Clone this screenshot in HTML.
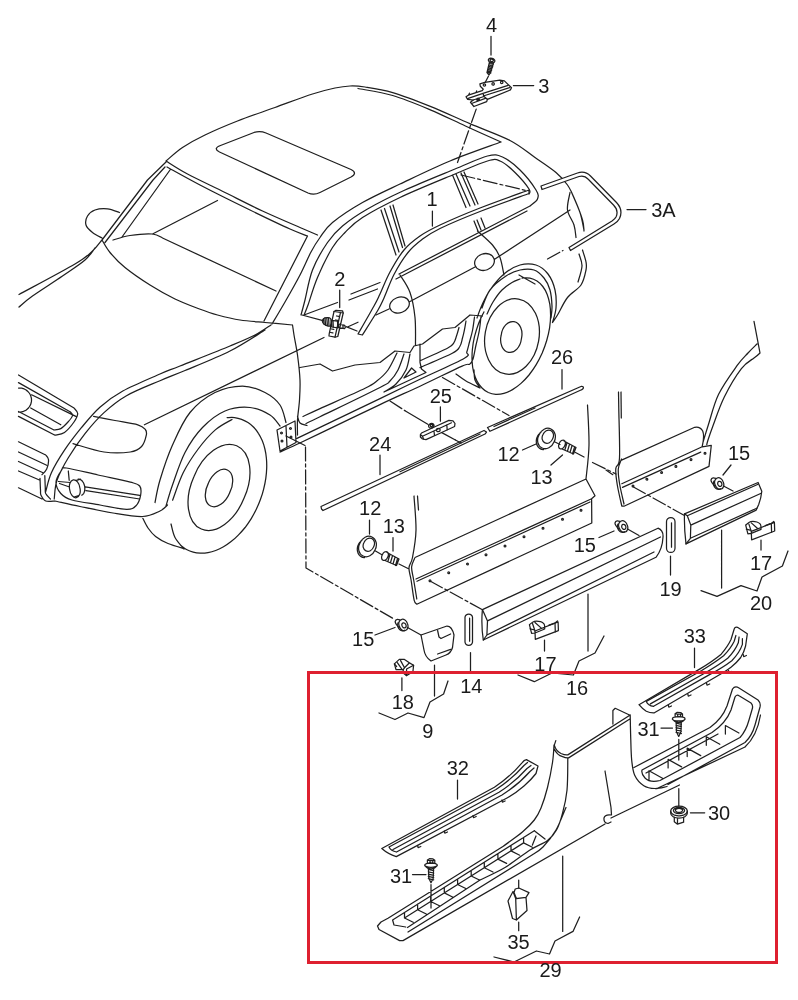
<!DOCTYPE html>
<html lang="en"><head><meta charset="utf-8"><title>Parts diagram</title>
<style>html,body{margin:0;padding:0;background:#fff}svg{display:block;will-change:transform;transform:translateZ(0)}text{font-family:"Liberation Sans",sans-serif;font-size:20px;fill:#1a1a1a;text-anchor:middle}</style>
</head><body>
<svg width="798" height="1000" viewBox="0 0 798 1000">
<rect width="798" height="1000" fill="#fff"/>
<g fill="none" stroke="#1f1f1f" stroke-width="1.25" stroke-linecap="round" stroke-linejoin="round">
<path d="M166,161C168.8,158.8 176,151.8 182.5,147.5C189,143.2 195.8,139.4 205,135C214.2,130.6 225.8,125.6 237.5,121C249.2,116.4 262.5,112 275,107.5C287.5,103 302.5,97.2 312.5,94C322.5,90.8 328.8,89.3 335,88C341.2,86.7 345,86.2 350,86C355,85.8 357.9,85.9 365,87C372.1,88.1 381.8,89.4 392.7,92.6C403.6,95.8 417.4,101.2 430.3,106.4C443.2,111.6 457.1,118.2 470.4,123.9C483.7,129.6 499.2,134.9 510,140.5C520.8,146.1 527.3,152.2 535,157.5C542.7,162.8 550.6,167.9 556,172.5C561.4,177.1 564.3,180.4 567.5,185C570.7,189.6 572.5,194.2 575,200C577.5,205.8 581,214.8 582.5,220C584,225.2 583.8,229.2 584,231 M358,88.5C363.8,89.7 380.6,92 392.7,95.5C404.8,99 418.2,104.7 430.3,109.8C442.4,114.9 453.6,120.6 465.4,126C477.2,131.4 495.1,139.3 501,142 M220.5,145.5 L254,132.5 Q260,130.5 266,133 L351,169.5 Q358,173 351,177 L320,192.5 Q314,195.5 308,193 L219.5,152 Q212.5,148.5 220.5,145.5Z M166,161C169.6,163.2 177.7,168.8 187.5,174C197.3,179.2 212.5,186.3 225,192.5C237.5,198.7 250,205.2 262.5,211C275,216.8 290.8,223.5 300,227.5C309.2,231.5 314.6,233.8 317.5,235 M167,167C172.5,170 186.2,177.8 200,185C213.8,192.2 235,202.7 250,210C265,217.3 280.4,224.7 290,229C299.6,233.3 304.6,234.8 307.5,236 M166,162L147.5,180L102,240 M165,167L153,180L105,242.5 M170,170L122,237 M119.5,212.5C117.5,211.9 111.6,209.2 107.5,208.8C103.4,208.4 98.3,208.8 95,210C91.7,211.2 89,213.5 87.5,216C86,218.5 85.2,222.2 86,225C86.8,227.8 89.8,230.3 92.5,232.5C95.2,234.7 100.4,237.1 102,238 M102,240C100.4,241.8 97,247 92.5,251C88,255 87.2,256.8 75,264C62.8,271.2 28.3,289.4 19,294.5 M95,248C93.3,250 90.4,255.3 85,260C79.6,264.7 71.2,270 62.5,276C53.8,282 39.8,290.8 32.5,296C25.2,301.2 21.2,305.2 19,307 M102,240C103.3,242.1 106.2,247.9 110,252.5C113.8,257.1 118.3,262.1 125,267.5C131.7,272.9 141.7,279.8 150,285C158.3,290.2 166.8,295 175,299C183.2,303 192.4,306.3 199.5,309C206.6,311.7 210.8,313.2 217.5,315C224.2,316.8 232.1,318.8 240,320C247.9,321.2 256.2,321.7 265,322.5C273.8,323.3 287.9,324.6 292.5,325 M113,240C115.8,239.2 123.4,236.5 130,235.5C136.6,234.5 147.1,233.6 152.5,234C157.9,234.4 160.8,237.3 162.5,238 M162.5,238L276,291 M152.5,234L217.5,200.5 M307.5,236L264,321 M501,142C492.5,145.2 466.8,154 450,161C433.2,168 414.6,177.1 400,184C385.4,190.9 373.8,196.1 362.5,202.5C351.2,208.9 339.6,216.7 332.5,222.5C325.4,228.3 323.6,232.6 320,237.5C316.4,242.4 314.3,245.8 311,252C307.7,258.2 304.3,266.7 300,275C295.7,283.3 289.7,293.8 285,302C280.3,310.2 274.2,320.3 272,324 M301,315C301.7,312.5 303.1,307.5 305,300C306.9,292.5 308.8,279.6 312.5,270C316.2,260.4 322.5,249.8 327.5,242.5C332.5,235.2 335.8,231.6 342.5,226C349.2,220.4 357.1,215 367.5,209C377.9,203 390.4,196.7 405,190C419.6,183.3 441.2,174.7 455,169C468.8,163.3 479.6,158 487.5,156C495.4,154 497.1,154.7 502.5,157C507.9,159.3 514.4,164.5 520,170C525.6,175.5 533.1,185.2 536,190C538.9,194.8 538.5,196.3 537.5,199C536.5,201.7 531.2,204.8 530,206 M304,315C304.7,313.3 305.8,311.2 308,305C310.2,298.8 313.4,287.1 317.5,277.5C321.6,267.9 327.9,255 332.5,247.5C337.1,240 340,237.5 345,232.5C350,227.5 353.3,223.3 362.5,217.5C371.7,211.7 384.6,204.8 400,197.5C415.4,190.2 440.4,180.1 455,174C469.6,167.9 480,163.2 487.5,161C495,158.8 495.4,159.1 500,161C504.6,162.9 510.2,167.8 515,172.5C519.8,177.2 526.7,185.4 529,189C531.3,192.6 529,193.2 529,194 M271,325C268.3,326.7 261.8,331.5 255,335C248.2,338.5 242.5,340.8 230,346C217.5,351.2 191.7,361.3 180,366C168.3,370.7 169.5,369.8 160,374C150.5,378.2 132.8,385.5 122.8,391C112.8,396.5 107.1,400.9 100.2,407C93.3,413.1 87.4,420.5 81.4,427.7C75.5,434.9 69.5,442.7 64.5,450.2C59.5,457.7 54.5,465.9 51.4,472.8C48.3,479.7 46.7,488.5 45.7,491.6 M265,330C259.2,333.5 243.3,344.2 230,351C216.7,357.8 196.7,365.6 185,370.5C173.3,375.4 169.8,376.5 160,380.7C150.2,384.9 135.8,390.4 126.5,395.7C117.2,401 110.9,406.3 104,412.6C97.1,418.9 91.2,425.8 85.2,433.3C79.2,440.8 73,449.9 68.3,457.7C63.6,465.5 59.4,473.4 57,480.3C54.6,487.2 54.7,495.9 54.2,499 M55,501C59.2,501.9 70.3,504.5 80,506.5C89.7,508.5 102.6,511.3 113,513C123.4,514.7 134.7,516.8 142.5,516.5C150.3,516.2 155.8,512.9 160,511C164.2,509.1 166.2,506 167.5,505 M18.5,375L74,408 M74,408C74.6,408.9 77.7,411.3 77.7,413.6C77.7,415.9 76.2,418.9 74,422C71.8,425.1 67.7,430.2 64.5,432.4C61.3,434.6 56.6,434.7 55,435.2 M55,435.2L18.5,416.4 M18.5,382.6L70,411.7 M70,411.7C70.4,412.3 72.8,413.8 72.5,415.5C72.2,417.2 70,419.8 68,422C66,424.2 63.1,427.3 60.8,428.6C58.5,429.9 55.1,429.8 54,430 M54,430L18.5,411.5 M31.6,394.8L75.8,416.4 M30.7,408L60.8,424.8 M18.5,388C18.7,388 19.6,388 20.1,388C20.7,388 21.2,388.1 21.8,388.2C22.3,388.3 22.8,388.5 23.4,388.6C23.9,388.8 24.4,389 24.9,389.3C25.4,389.5 25.9,389.8 26.3,390.1C26.8,390.4 27.2,390.8 27.6,391.2C28,391.5 28.4,391.9 28.7,392.4C29.1,392.8 29.4,393.2 29.7,393.7C30,394.2 30.3,394.7 30.5,395.2C30.7,395.7 30.9,396.2 31,396.7C31.2,397.3 31.3,397.8 31.4,398.3C31.5,398.9 31.5,399.4 31.5,400C31.5,400.6 31.5,401.1 31.4,401.7C31.3,402.2 31.2,402.7 31,403.3C30.9,403.8 30.7,404.3 30.5,404.8C30.3,405.3 30,405.8 29.7,406.3C29.4,406.8 29.1,407.2 28.7,407.6C28.4,408.1 28,408.5 27.6,408.8C27.2,409.2 26.8,409.6 26.3,409.9C25.9,410.2 25.4,410.5 24.9,410.7C24.4,411 23.9,411.2 23.4,411.4C22.8,411.5 22.3,411.7 21.8,411.8C21.2,411.9 20.7,412 20.1,412C19.6,412 18.7,412 18.5,412 M18.5,441.8L45.7,455 M45.7,455C46.2,455.8 48.3,457.3 48.5,459.6C48.7,461.9 47.8,466.5 46.7,469C45.6,471.5 42.8,473.8 42,474.7 M18.5,452L46.7,465.3 M18.5,461.5L43,472.8 M18.5,471L40,480.3 M18.5,487.8L42,499 M40,478.4C40.1,480.3 40.3,487.2 40.5,490C40.7,492.8 40.1,493.5 41,495.3C41.9,497.1 43.4,500.1 45.7,501C48,501.9 53.5,501 55,501 M44.8,475.6C44.9,477.7 45.1,485 45.3,488C45.4,491 44.9,491.7 45.7,493.5C46.6,495.3 49.6,498.1 50.4,499 M93.6,416.4C97.2,417.1 107.6,419.1 115,420.5C122.4,421.9 132.8,423.3 137.8,424.8C142.9,426.3 143.9,427.8 145.3,429.5C146.7,431.2 146.9,432.4 146.3,435.2C145.7,438 144.3,443.7 141.6,446.5C138.9,449.3 136.6,451.1 130.3,452C124,452.9 113.5,453.4 104,452C94.5,450.6 78.2,445 73,443.6 M61.7,470C63.4,467.6 60.4,467.2 66.4,468C72.5,468.8 87.3,472.6 98,475C108.7,477.4 123.4,480.4 130.3,482.2C137.2,484 138,483.8 139.7,486C141.4,488.2 141.2,492 140.6,495.3C140,498.6 138.3,503.4 136,505.7C133.7,508 132.5,509.5 126.5,509.4C120.5,509.3 109.1,506.6 100,505C90.9,503.4 78.5,501.9 72,500C65.5,498.1 63.5,496.5 60.8,493.5C58.1,490.5 55.9,486.1 56,482.2C56.1,478.3 60,472.4 61.7,470Z M79.9,487.9A5.2,8.3 -10 1 1 69.7,489.7A5.2,8.3 -10 1 1 79.9,487.9Z M78.1,479.1C78.2,479.1 78.5,479.1 78.7,479.1C78.9,479.1 79.1,479.1 79.4,479.2C79.6,479.2 79.8,479.3 80,479.4C80.2,479.4 80.4,479.5 80.7,479.7C80.9,479.8 81.1,480 81.3,480.1C81.5,480.3 81.7,480.5 81.9,480.7C82.1,480.9 82.3,481.1 82.5,481.3C82.6,481.5 82.8,481.8 83,482.1C83.2,482.3 83.3,482.6 83.5,482.9C83.6,483.2 83.7,483.5 83.9,483.8C84,484.1 84.1,484.4 84.2,484.7C84.3,485 84.4,485.4 84.5,485.7C84.6,486 84.6,486.4 84.7,486.7C84.7,487 84.8,487.4 84.8,487.7C84.8,488 84.8,488.4 84.8,488.7C84.8,489.1 84.8,489.4 84.8,489.7C84.7,490 84.7,490.4 84.6,490.7C84.6,491 84.5,491.3 84.4,491.6C84.4,491.8 84.3,492.1 84.2,492.4C84.1,492.7 83.9,492.9 83.8,493.2C83.7,493.4 83.5,493.6 83.4,493.8C83.2,494 83.1,494.2 82.9,494.4C82.7,494.6 82.6,494.7 82.4,494.8C82.2,495 81.9,495.1 81.8,495.2 M75.8,480.6L80.5,479.2 M74,497L78.7,495.5 M85.2,486.9L139.7,495.3 M86,490.6L139.7,499 M68.3,471L69.2,480.3 M58.5,481.5L70,482.5 M59.5,483.5L69.5,487 M324,337.5L144.4,424.8 M155,502.5C155.8,498.8 157.1,489.6 160,480C162.9,470.4 167.5,456.2 172.5,445C177.5,433.8 182.9,421.2 190,412.5C197.1,403.8 206.2,396.9 215,392.5C223.8,388.1 234.2,386 242.5,386C250.8,386 258.8,389.3 265,392.5C271.2,395.7 276.5,400 280,405C283.5,410 285,419.6 286,422.5 M166,506C167.1,502.5 169.3,493.9 172.5,485C175.7,476.1 180,462.1 185,452.5C190,442.9 195.8,434.4 202.5,427.5C209.2,420.6 217.1,414.3 225,411C232.9,407.7 242.5,406.8 250,407.5C257.5,408.2 265,411.9 270,415C275,418.1 278.3,424.2 280,426 M172.6,500.2C174.4,495.6 179,481 183.3,472.5C187.6,464 192.9,456.1 198.2,449C203.5,441.9 209.7,434.8 215.3,429.9C220.9,425 229.2,421.2 232,419.5 M244.1,498.1A27.3,43.8 23 1 1 193.9,476.7A27.3,43.8 23 1 1 244.1,498.1Z M229.6,492.9A11.7,18.7 25 1 1 208.4,483.1A11.7,18.7 25 1 1 229.6,492.9Z M227.1,417.6C228.4,417.6 232.2,417.3 234.6,417.6C237,417.9 239.4,418.5 241.6,419.3C243.8,420.1 246,421.2 248,422.5C250,423.8 251.9,425.4 253.7,427.2C255.4,429 257,431.1 258.4,433.3C259.9,435.5 261.1,438 262.2,440.6C263.3,443.2 264.2,446.1 264.9,449C265.6,451.9 266.1,455.1 266.4,458.2C266.7,461.4 266.8,464.8 266.7,468.1C266.6,471.5 266.3,475 265.8,478.4C265.3,481.9 264.6,485.4 263.7,488.9C262.9,492.4 261.8,495.9 260.5,499.3C259.3,502.7 257.9,506 256.3,509.3C254.7,512.6 253,515.7 251.1,518.8C249.2,521.8 247.2,524.7 245.1,527.5C242.9,530.2 240.7,532.8 238.3,535.1C236,537.5 233.6,539.7 231.1,541.6C228.6,543.6 226.1,545.3 223.5,546.8C220.9,548.3 218.3,549.5 215.7,550.5C213.1,551.5 210.5,552.2 208,552.6C205.4,553.1 202.8,553.3 200.4,553.2C197.9,553.1 195.5,552.8 193.2,552.1C190.9,551.5 188.6,550.6 186.5,549.5C184.4,548.4 181.6,546 180.6,545.3 M142.8,518.3C143.7,519.9 145.9,525 148,528C150.1,531 152.3,533.9 155.6,536.5C158.9,539.1 163.3,541.5 168,543.5C172.7,545.5 181.3,547.7 184,548.5 M171,524C171.7,526.2 172.8,533.3 175,537.5C177.2,541.7 182.5,547.1 184,549 M277,430L295,421L296,442.5L280,451Z M286,426L287,447 M282.4,433A0.9,0.9 0 1 1 280.6,433A0.9,0.9 0 1 1 282.4,433Z M291.4,428.5A0.9,0.9 0 1 1 289.6,428.5A0.9,0.9 0 1 1 291.4,428.5Z M282.9,441A0.9,0.9 0 1 1 281.1,441A0.9,0.9 0 1 1 282.9,441Z M291.9,437A0.9,0.9 0 1 1 290.1,437A0.9,0.9 0 1 1 291.9,437Z M297.5,416C297.9,417.2 298.4,421.4 300,423C301.6,424.6 305.8,425.1 307,425.5 M292.5,325C292.8,326.7 293.2,330 294,335C294.8,340 296.5,347.5 297.5,355C298.5,362.5 299.7,372.5 300,380C300.3,387.5 299.9,393.3 299.5,400C299.1,406.7 297.8,414.2 297.5,420C297.2,425.8 297.5,432.5 297.5,435 M381,210L396,255 M384.5,208.5L399,252 M390,206L402.5,247.5 M393,205L405,246 M452.5,175L466,207.5 M456,174L470,206 M461,173L475,205 M464,172L478,204 M474,221L478,231 M477,220L481,230 M481,218L485,228 M530,206L399,274 M527,211L396,279 M304,315L337.5,302.5 M351,294L380,282.5 M349,300L377.5,289 M400,275C401.7,277.9 407.5,285.4 410,292.5C412.5,299.6 414.1,308.8 415,317.5C415.9,326.2 415.4,340.4 415.5,345 M477.5,231C480,233.3 488.8,240.6 492.5,245C496.2,249.4 498.1,252.5 500,257.5C501.9,262.5 503.3,272.1 504,275 M408.9,301.6A10,7.5 -20 1 1 390.1,308.4A10,7.5 -20 1 1 408.9,301.6Z M493.9,258.6A10,8 -20 1 1 475.1,265.4A10,8 -20 1 1 493.9,258.6Z M348,326.7L358,322.2 M376,315L389,309 M410,301.5L475,267 M495,259L570,210 M571,191C572.5,194.6 577.8,206 580,212.5C582.2,219 583.3,227.1 584,230 M570,192.5C569.6,195.4 566.8,204.6 567.5,210C568.2,215.4 572.6,220.4 574,225C575.4,229.6 575.7,235.4 576,237.5 M582.5,250C583.1,252 585.4,258.7 586,262C586.6,265.3 586.8,266.2 586,270C585.2,273.8 584.1,280.4 581,285C577.9,289.6 571.4,292.5 567.5,297.5C563.6,302.5 560,310.8 557.5,315C555,319.2 553.3,321.2 552.5,322.5 M579,254C579.5,256 582.2,261.3 582,266C581.8,270.7 578.7,279.3 578,282 M477,318C477.8,315.8 479.8,309.7 482,305C484.2,300.3 486.3,295.2 490,290C493.7,284.8 499,278.2 504,274C509,269.8 514.7,266.5 520,265C525.3,263.5 531.3,263.5 536,265C540.7,266.5 544.8,269.8 548,274C551.2,278.2 553.7,284.3 555,290C556.3,295.7 556.4,302.6 556,308C555.6,313.4 553.1,320.1 552.5,322.5 M482,308C483.3,305 486,295.3 490,290C494,284.7 501,279.3 506,276C511,272.7 515.3,271 520,270C524.7,269 530,268.7 534,270C538,271.3 541.3,274.7 544,278C546.7,281.3 548.7,285.3 550,290C551.3,294.7 551.8,301.3 552,306C552.2,310.7 551.2,316 551,318 M519,275L535,284 M538.6,341.2A27,38 10 1 1 485.4,331.8A27,38 10 1 1 538.6,341.2Z M521.4,338.8A10.3,14.3 10 1 1 501.2,335.2A10.3,14.3 10 1 1 521.4,338.8Z M522,278C523.3,278 527.4,277.6 529.9,278.1C532.4,278.6 534.8,279.6 537,281C539.1,282.4 541.1,284.3 542.8,286.5C544.5,288.7 546,291.4 547.2,294.4C548.3,297.3 549.2,300.6 549.8,304.2C550.4,307.7 550.6,311.6 550.6,315.5C550.6,319.4 550.2,323.6 549.6,327.8C548.9,332 547.9,336.3 546.7,340.5C545.5,344.7 543.9,348.9 542.2,353C540.4,357 538.4,361 536.2,364.6C534,368.3 531.5,371.8 529,375C526.4,378.1 523.7,381 521,383.4C518.2,385.9 515.3,388 512.5,389.6C509.6,391.3 506.7,392.5 503.9,393.3C501.2,394.1 498.4,394.4 495.8,394.3C493.2,394.1 490.6,393.5 488.3,392.5C486,391.4 483.8,389.9 482,388C480.1,386.1 478.4,383.7 477,381C475.6,378.4 474.5,375.3 473.6,372C472.8,368.7 472.3,365 472.1,361.2C471.9,357.4 472,353.3 472.4,349.2C472.8,345.1 473.5,340.8 474.5,336.6C475.6,332.4 476.9,328.1 478.4,324C480,319.8 483,313.9 483.9,311.9 M487,314C488,312 490.5,306 493,302C495.5,298 498.8,293.2 502,290C505.2,286.8 509,284.3 512,282.5C515,280.7 518.7,279.6 520,279 M474,370C474.2,371.7 474,377 475,380C476,383 479.2,386.7 480,388 M456,374C457.7,375.2 462,378.7 466,381C470,383.3 477.7,386.8 480,388 M280,452C282.7,450.8 289.3,447.9 296,444.8C302.7,441.7 306,440.1 320,433.4C334,426.7 363.3,412.5 380,404.6C396.7,396.7 406.3,392.6 420,386.2C433.7,379.8 453.8,369.8 462.1,366.1C470.4,362.4 467.8,365.4 469.6,364.2C471.4,363 471.9,362.2 473,359C474.1,355.8 474.9,349.8 476,345C477.1,340.2 478.6,334.8 479.4,330C480.2,325.2 480.7,318.3 481,316 M297,438.4C300.8,436.6 306.2,434 320,427.4C333.8,420.8 363.3,406.6 380,398.6C396.7,390.6 405.9,386 420,379.3C434.1,372.6 456.6,362.8 464.4,358.2C472.2,353.6 465.9,354.7 466.8,352C467.7,349.3 468.5,345.7 469.5,342C470.5,338.3 471.8,334.2 472.6,330C473.4,325.8 474.2,319.2 474.5,317 M397,353C395.5,355.8 391.3,365.4 388,370C384.7,374.6 380.9,377.8 377.1,380.8C373.3,383.9 374.6,383.7 365.1,388.3C355.6,392.9 330.4,403.9 320,408.6C309.6,413.3 305.8,415.2 303,416.5 M404,354C403,356.7 400.3,365.5 398,370C395.7,374.5 393,378.1 390,381C387,383.9 391.7,381.5 380,387.5C368.3,393.5 332.3,410.8 320,416.8C307.7,422.8 308.3,422.4 306,423.5 M410,354C409.3,356.7 408.3,365 406,370C403.7,375 399.7,380.3 396,384C392.3,387.7 386,390.7 384,392 M384,392L426,372.5L421.5,369L420,362.3 M420,360.8C424.6,358.7 442.2,351 447.8,348C453.4,345 452.4,344.8 453.8,342.8C455.2,340.8 455.6,338.6 456.5,336C457.4,333.4 458.6,328.9 459,327.5 M420,367.6C425.4,365.2 445.7,356.8 452.3,353.3C458.9,349.8 458.1,349.1 459.8,346.5C461.5,343.9 461.7,340.8 462.5,338C463.3,335.2 463.8,332.8 464.4,330C465,327.2 465.7,322.5 466,321 M300,367.5L320,364L332.5,371L355,365L380,362.5L395,351L410,352.5L414,346L422.5,344L442.5,329L455,327.5L470,315L482.5,316 M420,344L420,362.3 M404,378L411.6,368L416,372Z"/>
</g>
<g fill="#fff" stroke="#1f1f1f" stroke-width="1.25" stroke-linecap="round" stroke-linejoin="round"><path d="M479.9,83.9L484.8,82.4L499.8,80.2L504.4,80.9L511.5,87.7L510.4,89.9L487.4,99.3L486.7,101.6L473.9,106.5L470.5,102.3L473.2,100L467.5,99.3L466,96.7L468.3,95.2L482.2,90.7L483.3,89.2L480.3,86.2Z M529,190C520.8,193 494.8,202.2 480,208C465.2,213.8 450,220.3 440,225C430,229.7 426,231.8 420,236C414,240.2 409,244 404,250C399,256 394,264.7 390,272C386,279.3 382.7,288.3 380,294C377.3,299.7 377.7,299.3 374,306C370.3,312.7 360.7,329.3 358,334 L362.4,335C365,330.8 374.4,316.2 378,310C381.6,303.8 381.3,303.9 384,298C386.7,292.1 390,282.1 394,274.5C398,266.9 403.3,258.3 408,252.5C412.7,246.7 416.7,243.5 422,239.5C427.3,235.5 430.3,233.2 440,228.5C449.7,223.8 465.2,217.3 480,211.5C494.8,205.7 520.8,196.5 529,193.5Z M334,311.5L336,310.3L342.5,310.8L343.2,313L337.8,336.5L335,337.2L329,336L329.2,333.8Z M330.5,318.5C329.6,317.2 326.3,317.6 325,317.8C323.7,318.1 322.9,319.1 322.6,320C322.3,320.9 322.4,322.1 323,323C323.6,323.9 324.8,324.8 326,325.3C327.2,325.8 329.6,326.9 330.3,325.8C331.1,324.7 331.4,319.8 330.5,318.5Z M331.5,320.3L337.5,321.2L337.8,327.8L332,327Z M338.6,324L344.8,325.3L345.3,327.6L344.5,328.6L338.6,327.6Z M541,186 L577.5,173 Q585,170.5 590.5,176 L616.5,202.5 Q623.5,210 619.5,218.5 Q618,221.5 614,224 L570.5,250.5 L569,247.5 L612,221 Q615,219 616,217 Q619,210.5 613.5,205 L588,179 Q584.5,175 579,176.5 L542,189.5Z M420.4,434.5L421.5,433L436,426.3L448.9,420.4L453,420.8L455,423.5L454.6,426.5L440,433.2L426,439.6L422.5,439L420.4,437Z M321,506.5L484,430.5L486.5,432L485,434L323,510.5L321.5,509Z M487.5,427.5 L581.5,386.3 Q583.6,386.2 583.4,388 Q583,389.3 581.5,389.8 L490,431.3Z M482.4,609.6 L658,528.2 Q663.5,530.5 663,537 Q662.5,549 656,557.3 L483.3,640 Q481,625 482.4,609.6Z M465,617.2 A3.8,3.8 0 0 1 472.5,617.2 L472.5,642.2 A3.8,3.8 0 0 1 465,642.2 Z M666.5,521.8 A4.2,4.2 0 0 1 675,521.8 L675,548.2 A4.2,4.2 0 0 1 666.5,548.2 Z M400.9,620.2C400.3,620.1 398.3,619.2 397.4,619.4C396.4,619.6 395.4,620.6 395.2,621.5C395,622.4 395.8,623.5 396.4,624.5C397,625.5 398.5,627 398.9,627.5 M407.4,623.5A4.3,5.3 -20 1 1 399.4,626.5A4.3,5.3 -20 1 1 407.4,623.5Z M620.7,521.7C620.1,521.6 618.2,520.7 617.2,520.9C616.2,521.1 615.2,522.1 615,523C614.8,523.9 615.6,525 616.2,526C616.8,527 618.3,528.5 618.7,529 M627.2,525A4.3,5.3 -20 1 1 619.2,528A4.3,5.3 -20 1 1 627.2,525Z M716.7,478.7C716.1,478.6 714.2,477.7 713.2,477.9C712.2,478.1 711.2,479.1 711,480C710.8,480.9 711.6,482 712.2,483C712.8,484 714.3,485.5 714.7,486 M723.2,482A4.3,5.3 -20 1 1 715.2,485A4.3,5.3 -20 1 1 723.2,482Z M421,635 L447,626 Q452,626 454,635 L452.5,647.5 Q451,653 446,655 L431,661 Q425,657 424,650 Z M529.4,624.7C530.2,624.1 532.5,621.8 534.4,621.3C536.3,620.8 539,621.2 540.6,621.6C542.2,622 543.3,622.9 544,623.8C544.7,624.7 544.6,626.6 544.7,627.2 L544.7,629 L535,633 L531.6,633.4Z M535,631L558.1,621.9L558.4,630.6L535.3,639.4Z M745.7,525.1C746.5,524.5 748.8,522.2 750.7,521.7C752.6,521.2 755.3,521.6 756.9,522C758.5,522.4 759.6,523.3 760.3,524.2C761,525.1 760.9,527 761,527.6 L761,529.4 L751.3,533.4 L747.9,533.8Z M751.3,531.4L774.4,522.3L774.7,531L751.6,539.8Z M394.4,663.9L399.3,659.4L404.5,659.4L409,662.6L413.6,665.2L412.9,671.7L406.4,675.6L403.2,673L403.2,669.7L396,669.7Z M684.5,513.9 L758.1,482.5 L761.8,491.3 Q761,499 758.7,504.5 L756.2,510.1 L686,543.9 Q684,528 684.5,513.9Z M381.8,848.5 L494.4,787.3 Q510,777 522,762.8 Q524,760 526.4,759.6 L538,766 L536,773.5 Q531,780 524,786 Q516,793 507,798 L396.3,856.6 Q388,854 381.8,848.5Z M639,704.7 L700,668.9 Q713,661 721.2,654.2 Q728,646 731,639.5 L734.2,629 Q735,626.5 737.5,627.3 L747.3,633.8 L745.6,646 Q744,652.5 740.7,657.5 Q736.5,663 731,667.2 Q726,671 721.2,673.7 L654.4,712.8 Q650,713 646.3,711.2 Q642,708.5 639,704.7Z M670.7,811 A8.3,4.8 0 0 1 687.3,811 L687.3,813.3 A8.3,4.8 0 0 1 670.7,813.3Z M508,901L513,891.5L515.7,898.6L516.4,920L512.5,918.5Z M515.7,898.6L526,897.4L527,910.5L516.4,920Z M514,892.6L515.2,889L518.8,888L529,892.6L526,897.4L516.4,898.6Z"/></g>
<g fill="none" stroke="#1f1f1f" stroke-width="1.25" stroke-linecap="round" stroke-linejoin="round"><path d="M491,36.3L491,55 M494.8,61.4A3.3,2.2 15 1 1 488.4,59.6A3.3,2.2 15 1 1 494.8,61.4Z M493.2,60.7A1.6,1 15 1 1 490.2,59.9A1.6,1 15 1 1 493.2,60.7Z M489.5,62L487,72.5 M493.5,63L490,73.5 M487,72.5L489,75L490,73.5 M489.2,63.5L493.3,64.5 M488.9,65L492.9,66 M488.5,66.4L492.5,67.4 M488.2,67.8L492,68.8 M487.9,69.3L491.6,70.3 M487.6,70.8L491.2,71.8 M487.2,72.2L490.8,73.2 M488.4,76.3L485.3,82.2 M513.4,85.6L533.7,85.6 M467.5,98.6L483,93.3L508.1,85.4 M483.3,96L509.6,87.7 M483,93.3L484,96.5L473.2,100 M484,96.5L487.4,99.3 M471.5,103.5L486,98.2 M485.6,85A1.2,1.2 0 1 1 483.2,85A1.2,1.2 0 1 1 485.6,85Z M494.3,83.9A1.2,1.2 0 1 1 491.9,83.9A1.2,1.2 0 1 1 494.3,83.9Z M502.9,82.4A1.2,1.2 0 1 1 500.5,82.4A1.2,1.2 0 1 1 502.9,82.4Z M479.2,98.9A1.3,0.9 -20 1 1 476.8,99.7A1.3,0.9 -20 1 1 479.2,98.9Z M478.5,99.1A0.5,0.4 -20 1 1 477.5,99.5A0.5,0.4 -20 1 1 478.5,99.1Z M469,94.6L469.4,93.2 M476.2,92.3L476.6,90.9 M432.4,211L432.4,226 M339.7,290L339.7,307.5 M302,315L322,320.3 M334,311.5L340.5,312.5L343.2,313 M340.5,312.5L335,337.2 M336.5,316L338.8,316.3 M335.6,320L337.9,320.3 M331.5,329L333.8,329.3 M330.6,332.5L332.9,332.8 M325,317.8L325.6,325 M326.8,318L327.4,325.4 M328.6,318.2L329,325.7 M323.5,319L324,324 M333,320.6L333.3,327.2 M343,325L343,328.3 M627,209.5L646,209.5 M422.5,436.3L437,429.5L451.5,422.8 M422.5,436.3L420.6,434.7 M422.5,436.3L423.5,439 M440.2,430A1.9,1.7 0 1 1 436.4,430A1.9,1.7 0 1 1 440.2,430Z M433.8,424.9A2.7,1.9 -20 1 1 428.8,426.7A2.7,1.9 -20 1 1 433.8,424.9Z M432.6,425.2A1.2,0.9 -20 1 1 430.4,426A1.2,0.9 -20 1 1 432.6,425.2Z M446.8,424.8L447.2,429.7 M434,431.5L434.5,435.3 M440.4,406.8L440.4,421.2 M405,410.7L427.8,424.3 M441.8,432.6L455.4,440 M400,471.8L480,434 M380,455L380,474.5 M494,426.5L535,408 M562,369.5L562,389 M554,442A8.3,9.8 25 1 1 539,435A8.3,9.8 25 1 1 554,442Z M552.6,438.9A5.3,6.3 25 1 1 543,434.5A5.3,6.3 25 1 1 552.6,438.9Z M543.6,449.6C543.4,449.6 543,449.6 542.7,449.6C542.4,449.5 542.1,449.5 541.8,449.4C541.6,449.3 541.3,449.2 541,449.1C540.7,449 540.5,448.8 540.2,448.7C540,448.6 539.7,448.4 539.5,448.2C539.3,448 539,447.9 538.8,447.6C538.6,447.4 538.4,447.2 538.2,447C538,446.8 537.8,446.5 537.7,446.3C537.5,446 537.4,445.7 537.2,445.5C537.1,445.2 537,444.9 536.9,444.6C536.8,444.3 536.7,444 536.6,443.7C536.5,443.4 536.5,443 536.4,442.7C536.4,442.4 536.3,442.1 536.3,441.7C536.3,441.4 536.3,441.1 536.3,440.7C536.3,440.4 536.4,440.1 536.4,439.7C536.5,439.4 536.5,439.1 536.6,438.7C536.7,438.4 536.8,438.1 536.9,437.7C537,437.4 537.1,437.1 537.3,436.8C537.4,436.5 537.6,436.2 537.7,435.9C537.9,435.6 538.1,435.3 538.3,435C538.5,434.7 538.7,434.4 538.9,434.2C539.1,433.9 539.3,433.6 539.6,433.4C539.8,433.2 540.1,432.9 540.3,432.7C540.6,432.5 541,432.2 541.1,432.1 M555,442L560,444.5 M564.7,445.8A3,4.5 25 1 1 559.3,443.2A3,4.5 25 1 1 564.7,445.8Z M564,441L576,447.5 M562,449L573.5,454 M567,442.7L565,449.5 M569.5,444.2L567.5,451 M572,445.7L570,452.5 M574.5,447.2L572.5,454 M576,447.5L573.5,454 M575.5,452.5L584,457 M522.5,450L536,444 M551,465L562.5,455 M375,550A8.3,9.8 25 1 1 360,543A8.3,9.8 25 1 1 375,550Z M373.6,546.9A5.3,6.3 25 1 1 364,542.5A5.3,6.3 25 1 1 373.6,546.9Z M364.6,557.6C364.4,557.6 364,557.6 363.7,557.6C363.4,557.5 363.1,557.5 362.8,557.4C362.6,557.3 362.3,557.2 362,557.1C361.7,557 361.5,556.8 361.2,556.7C361,556.6 360.7,556.4 360.5,556.2C360.3,556 360,555.9 359.8,555.6C359.6,555.4 359.4,555.2 359.2,555C359,554.8 358.8,554.5 358.7,554.3C358.5,554 358.4,553.7 358.2,553.5C358.1,553.2 358,552.9 357.9,552.6C357.8,552.3 357.7,552 357.6,551.7C357.5,551.4 357.5,551 357.4,550.7C357.4,550.4 357.3,550.1 357.3,549.7C357.3,549.4 357.3,549.1 357.3,548.7C357.3,548.4 357.4,548.1 357.4,547.7C357.5,547.4 357.5,547.1 357.6,546.7C357.7,546.4 357.8,546.1 357.9,545.7C358,545.4 358.1,545.1 358.3,544.8C358.4,544.5 358.6,544.2 358.7,543.9C358.9,543.6 359.1,543.3 359.3,543C359.5,542.7 359.7,542.4 359.9,542.2C360.1,541.9 360.3,541.6 360.6,541.4C360.8,541.2 361.1,540.9 361.3,540.7C361.6,540.5 362,540.2 362.1,540.1 M375.5,551L381.5,554.5 M387.7,557.3A3,4.5 25 1 1 382.3,554.7A3,4.5 25 1 1 387.7,557.3Z M387,552.5L399,559 M385,560.5L396.5,565.5 M390,554.2L388,561 M392.5,555.7L390.5,562.5 M395,557.2L393,564 M397.5,558.7L395.5,565.5 M399,559L396.5,565.5 M399,564L409,569 M369.5,520L369.5,534 M393,537.5L393,551 M414,496C414.3,501.7 416.2,519.8 416,530C415.8,540.2 413.7,551.2 412.5,557.5C411.3,563.8 409.2,564.1 409,567.8C408.8,571.5 410.1,574.1 411,579.5C411.9,584.9 413.2,596.2 414.2,600.3C415.2,604.4 416.4,603.6 416.8,604.2 M417.5,496L418.5,510 M414.6,558.5C414.1,559.9 411.8,563.5 411.6,567C411.4,570.5 412.7,574.2 413.6,579.5C414.5,584.8 416.3,595.8 416.8,599 M587.5,405C587.8,411.7 589.2,432.7 589,445C588.8,457.3 586.5,473.3 586,479 M415,557.5L586,479L595,495.8L591.6,498.8L591.8,523L416.8,604.2 M416,579L591.6,498.8 M417,581.3L590,502 M430.9,580.8A0.9,0.9 0 1 1 429.1,580.8A0.9,0.9 0 1 1 430.9,580.8Z M449.6,572.8A0.9,0.9 0 1 1 447.8,572.8A0.9,0.9 0 1 1 449.6,572.8Z M468.4,564A0.9,0.9 0 1 1 466.6,564A0.9,0.9 0 1 1 468.4,564Z M486.9,554.8A0.9,0.9 0 1 1 485.1,554.8A0.9,0.9 0 1 1 486.9,554.8Z M505.9,546A0.9,0.9 0 1 1 504.1,546A0.9,0.9 0 1 1 505.9,546Z M524.9,536.8A0.9,0.9 0 1 1 523.1,536.8A0.9,0.9 0 1 1 524.9,536.8Z M543.9,528.3A0.9,0.9 0 1 1 542.1,528.3A0.9,0.9 0 1 1 543.9,528.3Z M563.4,519.3A0.9,0.9 0 1 1 561.6,519.3A0.9,0.9 0 1 1 563.4,519.3Z M581.9,510.3A0.9,0.9 0 1 1 580.1,510.3A0.9,0.9 0 1 1 581.9,510.3Z M487.5,620.9 L660.5,537 M486.9,635 L654,552 M482.4,609.6L487.5,620.9L486.9,635L483.3,640 M469.6,618.2 L469.6,641.2 M671.5,522.8 L671.5,547.2 M470.5,652.5L470.5,671 M670.5,556L670.5,575 M405.9,624.7A2,2.6 -20 1 1 402.1,626.1A2,2.6 -20 1 1 405.9,624.7Z M404.6,630.2C404.5,630.3 404.3,630.4 404.2,630.5C404,630.5 403.9,630.6 403.7,630.6C403.6,630.7 403.4,630.7 403.3,630.7C403.1,630.8 403,630.8 402.8,630.8C402.6,630.8 402.5,630.8 402.3,630.8C402.2,630.8 402,630.7 401.8,630.7C401.7,630.7 401.5,630.6 401.4,630.6C401.2,630.5 401,630.4 400.9,630.4C400.7,630.3 400.6,630.2 400.4,630.1C400.3,630 400.1,629.9 400,629.8C399.9,629.7 399.7,629.6 399.6,629.4C399.5,629.3 399.3,629.2 399.2,629C399.1,628.9 399,628.7 398.9,628.6C398.7,628.4 398.6,628.3 398.5,628.1C398.5,627.9 398.4,627.8 398.3,627.6C398.2,627.4 398.1,627.3 398.1,627.1C398,626.9 397.9,626.7 397.9,626.5C397.8,626.3 397.8,626.1 397.8,626C397.7,625.8 397.7,625.6 397.7,625.4C397.7,625.2 397.7,625 397.7,624.8C397.7,624.6 397.7,624.5 397.7,624.3C397.7,624.1 397.8,623.9 397.8,623.7C397.8,623.6 397.9,623.4 397.9,623.2C398,623.1 398.1,622.8 398.1,622.7 M625.7,526.2A2,2.6 -20 1 1 621.9,527.6A2,2.6 -20 1 1 625.7,526.2Z M624.4,531.7C624.3,531.8 624.1,531.9 624,532C623.8,532 623.7,532.1 623.5,532.1C623.4,532.2 623.2,532.2 623.1,532.2C622.9,532.3 622.8,532.3 622.6,532.3C622.4,532.3 622.3,532.3 622.1,532.3C622,532.3 621.8,532.2 621.6,532.2C621.5,532.2 621.3,532.1 621.2,532.1C621,532 620.8,531.9 620.7,531.9C620.5,531.8 620.4,531.7 620.2,531.6C620.1,531.5 619.9,531.4 619.8,531.3C619.7,531.2 619.5,531.1 619.4,530.9C619.3,530.8 619.1,530.7 619,530.5C618.9,530.4 618.8,530.2 618.7,530.1C618.5,529.9 618.4,529.8 618.3,529.6C618.3,529.4 618.2,529.3 618.1,529.1C618,528.9 617.9,528.8 617.9,528.6C617.8,528.4 617.7,528.2 617.7,528C617.6,527.8 617.6,527.6 617.6,527.5C617.5,527.3 617.5,527.1 617.5,526.9C617.5,526.7 617.5,526.5 617.5,526.3C617.5,526.1 617.5,526 617.5,525.8C617.5,525.6 617.6,525.4 617.6,525.2C617.6,525.1 617.7,524.9 617.7,524.7C617.8,524.6 617.9,524.3 617.9,524.2 M721.7,483.2A2,2.6 -20 1 1 717.9,484.6A2,2.6 -20 1 1 721.7,483.2Z M720.4,488.7C720.3,488.8 720.1,488.9 720,489C719.8,489 719.7,489.1 719.5,489.1C719.4,489.2 719.2,489.2 719.1,489.2C718.9,489.3 718.8,489.3 718.6,489.3C718.4,489.3 718.3,489.3 718.1,489.3C718,489.3 717.8,489.2 717.6,489.2C717.5,489.2 717.3,489.1 717.2,489.1C717,489 716.8,488.9 716.7,488.9C716.5,488.8 716.4,488.7 716.2,488.6C716.1,488.5 715.9,488.4 715.8,488.3C715.7,488.2 715.5,488.1 715.4,487.9C715.3,487.8 715.1,487.7 715,487.5C714.9,487.4 714.8,487.2 714.7,487.1C714.5,486.9 714.4,486.8 714.3,486.6C714.3,486.4 714.2,486.3 714.1,486.1C714,485.9 713.9,485.8 713.9,485.6C713.8,485.4 713.7,485.2 713.7,485C713.6,484.8 713.6,484.6 713.6,484.5C713.5,484.3 713.5,484.1 713.5,483.9C713.5,483.7 713.5,483.5 713.5,483.3C713.5,483.1 713.5,483 713.5,482.8C713.5,482.6 713.6,482.4 713.6,482.2C713.6,482.1 713.7,481.9 713.7,481.7C713.8,481.6 713.9,481.3 713.9,481.2 M375,635L395,627.5 M407.5,627.5L421,635 M599,537.5L614,531 M627.5,529L639,535.5 M723,475L731,465 M723.5,486L733,491 M286,436L305,445.5 M437.6,630.5L439,637L441,638.5L450.6,634 M437.6,654L450.6,649.4 M434.5,665L434.5,696 M532.5,623.5L535,631 M535,622.5L541.3,628.1 M530,628.8L534.7,630 M555,623.1L555.3,631.8 M555,623.1L557.5,621 M549,625.2L554,623.3 M748.8,523.9L751.3,531.4 M751.3,522.9L757.6,528.5 M746.3,529.2L751,530.4 M771.3,523.5L771.6,532.2 M771.3,523.5L773.8,521.4 M765.3,525.6L770.3,523.7 M544.5,640L544.5,651 M761,540L761,550 M397.3,662.6L401.9,669.1 M400.6,660.6L404.5,667.8L409,663.2 M404.5,667.8L403.2,669.7 M406.4,675.6L406.6,669L413.6,665.2 M394.4,663.9L396.6,666.5 M401.9,677.8L401.9,690.5 M379,713L395,719.5L408,713L424,717.6L430,702L443.6,694L448,681 M518,675L534.3,681.7L552,673L573.4,675L579,661L595,653L604,636 M588,594L588,651 M701,590.6L717,596.4L741,585.6L757,591L762,577L782.4,566L788,551 M721.6,530L721.6,588 M494,957L514,962L536.4,951L549.5,954L555,941L573,931.4L579.6,917 M562.7,856L562.7,931.4 M618.5,392C618.5,395 618.6,399 618.8,410C619,421 620,448.2 619.5,458C619,467.8 616.2,464.1 615.8,468.6C615.4,473.1 616.3,478.8 617.3,485C618.3,491.2 621,502.5 621.8,506 M621,392L621.3,418 M621.5,459C621,460.7 618.6,464.7 618.3,469C618,473.3 618.8,479.2 619.8,485C620.8,490.8 623.3,500.8 624,504 M754,321.4 L760,353 Q757,356 754,358 M754,358C751.9,359.8 746.4,362.1 741.4,368.6C736.4,375.1 729,387.5 724.3,397C719.6,406.5 715.7,418.5 713,425.7C710.3,432.9 709,436.9 708,440C707,443.1 707,443.8 706.8,444.6 M757,344C755.5,345.5 751.3,349.4 748,353C744.7,356.6 741.9,358.8 737,365.7C732.1,372.6 723.4,384.4 718.6,394.3C713.8,404.2 710.9,417 708.3,425C705.7,433 703.9,439.4 703,442.3 M621,460.4L694.7,427.3 M694.7,427.3 Q700,426.3 702.7,431 Q704.7,436 702.2,446.5 M621.8,483.7L702.2,446.8L711.3,445.3L709,466.4L624,506.2L621.8,506 M622.5,487.4L700.7,452.1 M633.9,486A0.9,0.9 0 1 1 632.1,486A0.9,0.9 0 1 1 633.9,486Z M647.8,479.2A0.9,0.9 0 1 1 646,479.2A0.9,0.9 0 1 1 647.8,479.2Z M662.5,472.4A0.9,0.9 0 1 1 660.7,472.4A0.9,0.9 0 1 1 662.5,472.4Z M676.8,466.4A0.9,0.9 0 1 1 675,466.4A0.9,0.9 0 1 1 676.8,466.4Z M691.9,459.6A0.9,0.9 0 1 1 690.1,459.6A0.9,0.9 0 1 1 691.9,459.6Z M705.9,453.3A0.9,0.9 0 1 1 704.1,453.3A0.9,0.9 0 1 1 705.9,453.3Z M606,470L612.8,474.7 M690.8,525.1 L761.2,493.2 M690.4,538.3 L756.8,508.2 M684.5,513.9L687.3,515.7L690.8,525.1L690.4,538.3L686,543.9 M687.3,515.7L758.1,484.3 M389,847 L496,789.5 Q512,779 524,765.5 L527.5,762.5 M393,849.5 L499,792.2 Q515,782 527,768.5 L531,765.5 M396.5,852 L502,795 Q518,785 530,771.5 L534,768 M389,847 Q391,851 396.5,852 M417.6,845.5L418.1,847.7L420.8,846.5 M444.3,831L444.8,833.2L447.5,832 M473,815.5L473.5,817.7L476.2,816.5 M501.9,800L502.4,802.2L505.1,801 M457.5,780L457.5,799 M646.3,701.4 L701.7,670.5 Q715,662.5 723.6,655.8 Q731,648 734.2,641.2 L735.9,635.5 M650.4,703.9 L705,673 Q719,665 727.7,658.3 Q735,651 738.3,642.8 L739.1,637 M653.6,706.3 L708.2,675.4 Q723,667.5 731.8,660.7 Q739.5,653 742.4,644.4 L742.4,638.7 M646.3,701.4 Q648,705.5 653.6,706.3 M668.3,705L668.8,707.2L671.5,706 M687.8,694L688.3,696.2L691,695 M706.5,683L707,685.2L709.7,684 M728.5,670.5L729,672.7L731.7,671.5 M743.2,654.5L743.7,656.7L746.4,655.5 M694.5,648L694.5,667.5 M427.4,860.1L429.5,858.7L433,858.9L434.8,860.3L434.8,863.3L427.4,863.3Z M430,860.5L430,863.3 M432.8,860.5L432.8,863.3 M427.4,860.1L430,860.5L432.8,860.5L434.8,860.3 M437.3,865.1A6.3,2.2 0 1 1 424.7,865.1A6.3,2.2 0 1 1 437.3,865.1Z M424.7,865.6C425.2,866 426.4,867.8 428,868.3C429.6,868.8 432.4,868.8 434,868.3C435.6,867.8 436.8,866 437.3,865.6 M428.4,868.3L428.8,878.3L431,882.8L433.2,878.3L433.6,868.3 M428.3,869.5L433.7,870.7 M428.3,871.8L433.7,873 M428.3,874.1L433.7,875.3 M428.3,876.4L433.7,877.6 M428.3,878.7L433.7,879.9 M675.1,713.7L677.2,712.3L680.7,712.5L682.5,713.9L682.5,716.9L675.1,716.9Z M677.7,714.1L677.7,716.9 M680.5,714.1L680.5,716.9 M675.1,713.7L677.7,714.1L680.5,714.1L682.5,713.9 M685,718.7A6.3,2.2 0 1 1 672.4,718.7A6.3,2.2 0 1 1 685,718.7Z M672.4,719.2C673,719.6 674.2,721.4 675.7,721.9C677.2,722.4 680.2,722.4 681.7,721.9C683.2,721.4 684.5,719.6 685,719.2 M676.1,721.9L676.5,731.9L678.7,736.4L680.9,731.9L681.3,721.9 M676,723.1L681.4,724.3 M676,725.4L681.4,726.6 M676,727.7L681.4,728.9 M676,730L681.4,731.2 M676,732.3L681.4,733.5 M412.5,874.5L426,874.5 M661,728L672.5,728 M431,884.5L431,908 M678.8,739.4L678.8,760 M678.8,788.7L678.8,806 M687.3,811C687.3,811.1 687.3,811.4 687.2,811.6C687.2,811.8 687.1,812 687,812.2C686.9,812.4 686.8,812.6 686.7,812.8C686.5,813 686.4,813.2 686.2,813.4C686,813.6 685.8,813.8 685.6,813.9C685.4,814.1 685.1,814.2 684.9,814.4C684.6,814.5 684.3,814.7 684.1,814.8C683.8,814.9 683.5,815.1 683.1,815.2C682.8,815.3 682.5,815.4 682.2,815.4C681.8,815.5 681.5,815.6 681.1,815.6C680.8,815.7 680.4,815.7 680.1,815.8C679.7,815.8 679.4,815.8 679,815.8C678.6,815.8 678.3,815.8 677.9,815.8C677.6,815.7 677.2,815.7 676.9,815.6C676.5,815.6 676.2,815.5 675.8,815.4C675.5,815.4 675.2,815.3 674.9,815.2C674.5,815.1 674.2,814.9 673.9,814.8C673.7,814.7 673.4,814.5 673.1,814.4C672.9,814.2 672.6,814.1 672.4,813.9C672.2,813.8 672,813.6 671.8,813.4C671.6,813.2 671.5,813 671.3,812.8C671.2,812.6 671.1,812.4 671,812.2C670.9,812 670.8,811.8 670.8,811.6C670.7,811.4 670.7,811.1 670.7,811 M684.6,810.6A5.6,3.1 0 1 1 673.4,810.6A5.6,3.1 0 1 1 684.6,810.6Z M682.6,810.3A3.6,2 0 1 1 675.4,810.3A3.6,2 0 1 1 682.6,810.3Z M674.3,817.3L674.3,821.8L677.5,824.2L683.6,822.2L683.6,817.3 M677.5,818.6L677.5,824.2 M690.4,812.8L704.7,812.8 M518.7,880L518.7,888 M518.7,922L518.7,930.7 M612.9,724L612.9,710.5L615.2,708.3L629.5,715 M555.8,740.6 L554.3,745.1 Q556,751 561,753.5 Q565,755.3 567.8,754.9 L630.2,715 M554.3,748.9 Q557,755 562.6,756.6 Q566,758.3 568.6,757.9 L630.2,718.8 M554,745C553.8,747.9 553.6,755.4 552.5,762.5C551.4,769.6 549.4,779.9 547.5,787.5C545.6,795.1 543.2,802.6 541,808C538.8,813.4 537.4,816 534.3,820C531.2,824 527.6,827.6 522.4,832C517.2,836.4 506.5,843.8 503.3,846.2 M503.3,846.2L388,918.3L381,922L377.5,926L379,929.5L399.6,940.6L403,940.6 M567.8,758.6C567.7,763.9 567.9,781.2 567,790.2C566.1,799.2 564.4,806.2 562.6,812.8C560.9,819.4 559,825.4 556.5,830C554,834.6 551.9,837.2 547.5,840.5C543.1,843.8 537.1,845.5 530,850C522.9,854.5 513.3,862.5 505,867.5C496.7,872.5 484.2,877.9 480,880 M480,880L407.5,927.5 M566,807.5C564.3,811.2 559.8,823.4 556,830C552.2,836.6 547,842.8 543,847C539,851.2 533.8,853.7 532,855 M532,855L408,932 M403,940.6L605,824 M630.2,715C630.3,719.2 630.5,732.5 630.8,740C631,747.5 631.1,754.3 631.7,760.2C632.4,766.1 632.7,771 634.7,775.2C636.7,779.5 640.4,783.5 643.8,785.7C647.2,787.9 651.1,788.4 655,788.5C658.9,788.6 665,786.8 667,786.5 M605,771L611,807.5 M611,807.5 L611.5,815 Q605,814 604,818 Q603.5,823 608,823.5 L611,822 M611,818L679.5,785 M392.6,920L534.3,830.7 M404.5,912.5L404.5,918L413.2,922.3 M417.6,904.2L417.6,909.7L426.3,914 M430.7,896L430.7,901.5L439.4,905.8 M444.3,887.4L444.3,892.9L453,897.2 M457.6,879L457.6,884.5L466.3,888.8 M471.2,870.5L471.2,876L479.9,880.3 M484.3,862.2L484.3,867.7L493,872 M497.9,853.6L497.9,859.1L506.6,863.4 M511,845.4L511,850.9L519.7,855.2 M523.6,837.4L523.6,842.9L532.3,847.2 M404.5,918L523.6,842.9 M392.6,920L394,925L405.7,927 M534.3,830.7L545,839 M532.3,845.2L536,836 M634,767.5 L710,727.5 Q722,719 727,706 L732.5,689 Q735,685.5 739,688 L758,700 Q761,703 760,707 L755,725 Q752,736 745,742.5 L668,784.5 M642,770 L712,732.5 Q726,723 731,710 L735,697 Q736.5,694 739.5,696 L751,703 Q753,705 752.5,708 L749,720 Q746,731 740,737.5 L660,780.5 Q650,783 645,778 Q641,774 642,770Z M646,773 L718,734 M649,779.2L649,770.7L662.5,778.2 M668.1,767.9L668.1,759.4L681.6,766.9 M687.2,756.6L687.2,748.1L700.7,755.6 M706.3,745.3L706.3,736.8L719.8,744.3 M725.4,734L725.4,725.5L738.9,733 M657,788.5L745,747 M745,747 Q757,736 760.5,715"/>
<path stroke-dasharray="14 3 3 3" d="M476.2,109.1L457.5,162.5 M461,175L528,191 M346,326.7L357,331 M547.5,259L563,250.5 M390,401L405,410.7 M455.4,440L461,443 M442.5,377.5L509,415.5 M592.5,462.5L616,474 M430,581L482,609.5 M305.5,447L306,568L394,619 M633,486.7L684,515.3"/></g>
<rect x="308.5" y="672.5" width="468" height="290" fill="none" stroke="#de2030" stroke-width="3"/>
<g>
<text x="491.6" y="31.8">4</text>
<text x="543.7" y="93">3</text>
<text x="663.4" y="217">3A</text>
<text x="432" y="206">1</text>
<text x="339.7" y="286">2</text>
<text x="440.8" y="402.5">25</text>
<text x="562.1" y="364.4">26</text>
<text x="380.2" y="451.1">24</text>
<text x="508.5" y="461">12</text>
<text x="541.5" y="484">13</text>
<text x="370.2" y="515">12</text>
<text x="393.8" y="532.8">13</text>
<text x="739" y="460">15</text>
<text x="584.8" y="552">15</text>
<text x="363.2" y="646">15</text>
<text x="761" y="569.6">17</text>
<text x="545.4" y="671">17</text>
<text x="670.5" y="595.8">19</text>
<text x="761" y="609.6">20</text>
<text x="471.3" y="692.8">14</text>
<text x="577" y="694.7">16</text>
<text x="402.8" y="709">18</text>
<text x="427.9" y="737.5">9</text>
<text x="694.8" y="643.3">33</text>
<text x="457.8" y="775">32</text>
<text x="648.5" y="735.5">31</text>
<text x="401" y="882.5">31</text>
<text x="719" y="820.3">30</text>
<text x="518.5" y="949">35</text>
<text x="550.5" y="977.3">29</text>
</g>
</svg></body></html>
